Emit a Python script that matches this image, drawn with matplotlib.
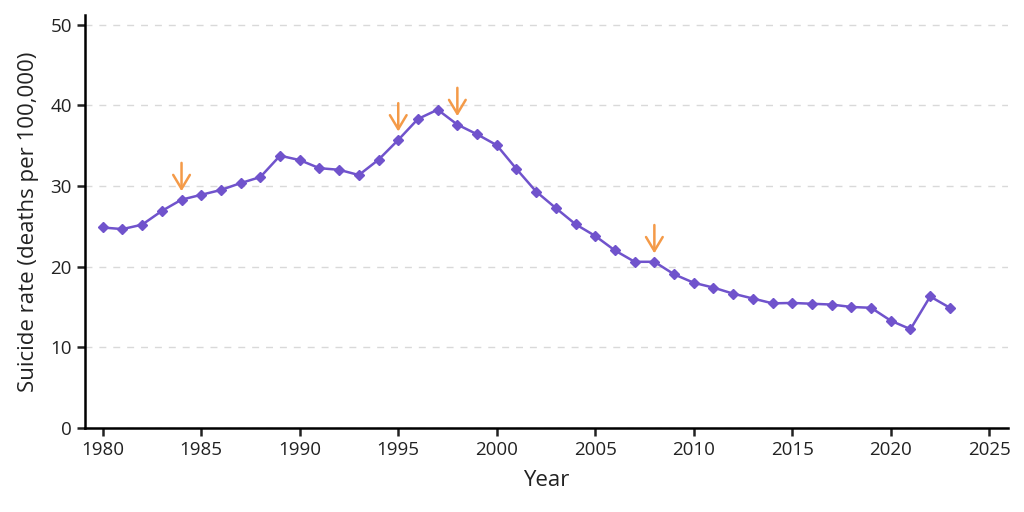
import matplotlib
matplotlib.use("Agg")
from matplotlib import pyplot as plt

years = list(range(1980, 2024))
rates = [24.85, 24.65, 25.2, 26.9, 28.3, 28.9, 29.5, 30.35, 31.1, 33.75,
         33.2, 32.2, 32.0, 31.35, 33.25, 35.7, 38.3, 39.45, 37.6, 36.4,
         35.05, 32.1, 29.3, 27.25, 25.25, 23.8, 22.0, 20.6, 20.6, 19.05,
         18.0, 17.4, 16.65, 16.05, 15.45, 15.5, 15.4, 15.3, 15.0, 14.9,
         13.3, 12.25, 16.3, 14.9]
arrow_years = [1984, 1995, 1998, 2008]

plt.rcParams['font.family'] = ['Open Sans', 'DejaVu Sans']

fig = plt.figure(figsize=(10.24, 5.12), dpi=100)
ax = fig.add_axes([0.083, 0.164, 0.901, 0.807])

ax.plot(years, rates, color='#7053CC', linewidth=1.8, marker='D', markersize=5, zorder=3)

for yr in arrow_years:
    val = rates[years.index(yr)]
    ax.annotate('', xy=(yr, val + 0.7), xytext=(yr, val + 4.9),
                arrowprops=dict(arrowstyle='->,head_length=1.0,head_width=0.6',
                                color='#F49A48', lw=1.8), zorder=4)

ax.set_xlim(1979.1, 2025.93)
ax.set_ylim(0, 51.2)
ax.set_xticks(range(1980, 2026, 5))
ax.set_yticks(range(0, 51, 10))
ax.yaxis.grid(True, linestyle=(0, (5, 5)), color='#d9d9d9', linewidth=1)
ax.set_axisbelow(True)

for side in ['top', 'right']:
    ax.spines[side].set_visible(False)
for side in ['left', 'bottom']:
    ax.spines[side].set_linewidth(1.8)
ax.tick_params(width=1.8, length=6, labelsize=13.5, colors='#222222')

ax.set_xlabel('Year', fontsize=16, color='#222222', labelpad=8)
ax.set_ylabel('Suicide rate (deaths per 100,000)', fontsize=16, color='#222222', labelpad=8)

plt.savefig('out.png')
plt.close()
